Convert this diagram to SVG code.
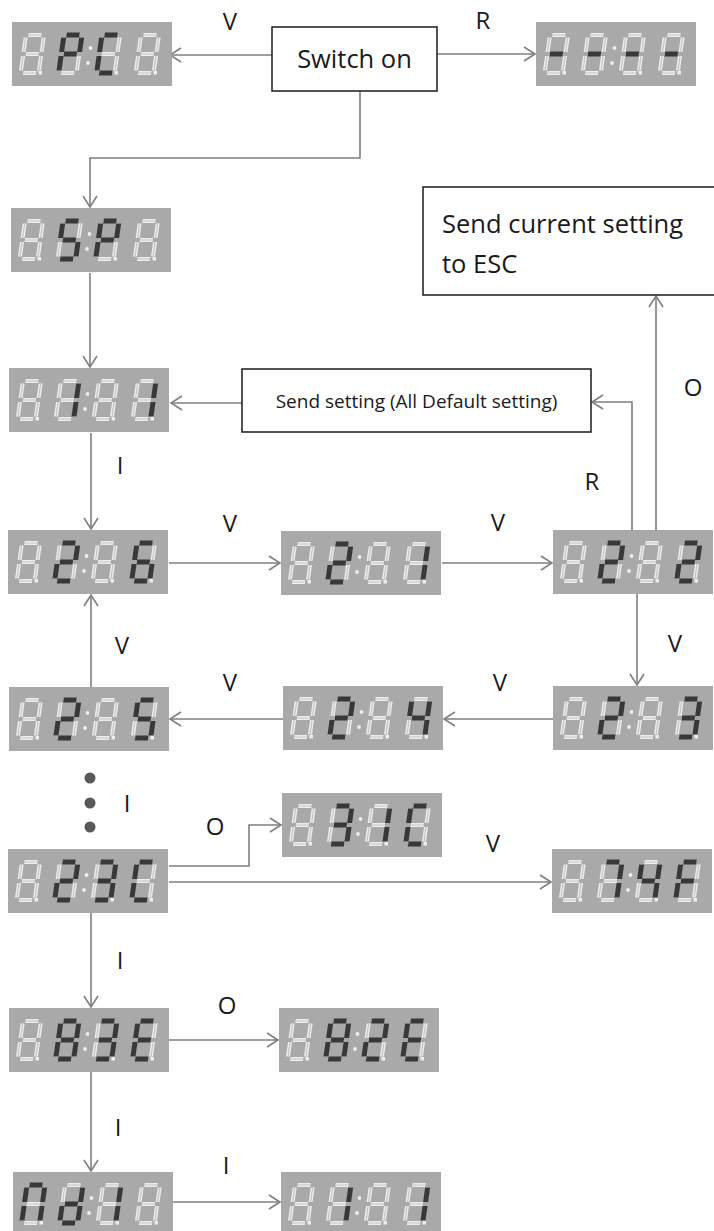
<svg xmlns="http://www.w3.org/2000/svg" xmlns:xlink="http://www.w3.org/1999/xlink" width="714" height="1231" viewBox="0 0 714 1231">
<style>
.bg{fill:#a9a9a9}
.off{stroke:#ededed;stroke-width:4;fill:none}
.offin{stroke:#c4c4c4;stroke-width:1.2;fill:none}
.offdot{fill:#ededed}
.on{stroke:#383838;stroke-width:5;fill:none}
.box{fill:#fff;stroke:#1a1a1a;stroke-width:1.5}
.lbl{font-family:"Open Sans","Liberation Sans",sans-serif;font-size:24px;fill:#1a1a1a;text-anchor:middle}
.txt{font-family:"Open Sans","Liberation Sans",sans-serif;fill:#1a1a1a}
.con{stroke:#7f7f7f;stroke-width:1.6;fill:none;marker-end:url(#arr)}
</style>
<defs>
<marker id="arr" markerWidth="16" markerHeight="18" refX="12" refY="8" orient="auto" markerUnits="userSpaceOnUse">
<path d="M1,1 L12,8 L1,15" fill="none" stroke="#7f7f7f" stroke-width="1.6"/>
</marker>
<line id="sa" x1="2.5" y1="0" x2="15.5" y2="0"/>
<line id="sb" x1="18" y1="2.5" x2="18" y2="17"/>
<line id="sc" x1="18" y1="21" x2="18" y2="35.5"/>
<line id="sd" x1="2.5" y1="38" x2="15.5" y2="38"/>
<line id="se" x1="0" y1="21" x2="0" y2="35.5"/>
<line id="sf" x1="0" y1="2.5" x2="0" y2="17"/>
<line id="sg" x1="2.5" y1="19" x2="15.5" y2="19"/>
<g id="d8"><use xlink:href="#sa"/><use xlink:href="#sb"/><use xlink:href="#sc"/><use xlink:href="#sd"/><use xlink:href="#se"/><use xlink:href="#sf"/><use xlink:href="#sg"/></g>
<g id="d8off"><use xlink:href="#d8" class="off"/><use xlink:href="#d8" class="offin"/></g>
<g id="disp">
<rect class="bg" x="0" y="0" width="160" height="64"/>
<use xlink:href="#d8off" transform="translate(14,13) skewX(-8)"/>
<use xlink:href="#d8off" transform="translate(52,13) skewX(-8)"/>
<use xlink:href="#d8off" transform="translate(90,13) skewX(-8)"/>
<use xlink:href="#d8off" transform="translate(129,13) skewX(-8)"/>
<rect class="offdot" x="26.5" y="49" width="3.5" height="3.5"/>
<rect class="offdot" x="102.5" y="49" width="3.5" height="3.5"/>
<rect class="offdot" x="141.5" y="49" width="3.5" height="3.5"/>
<circle class="offdot" cx="78.5" cy="26" r="1.9"/>
<circle class="offdot" cx="76" cy="41" r="1.9"/>
</g>
</defs>

<g id="connectors">
<line class="con" x1="272" y1="55" x2="170" y2="55"/>
<line class="con" x1="437" y1="54" x2="535" y2="54"/>
<polyline class="con" points="360,91 360,158 90,158 90,207"/>
<line class="con" x1="90" y1="273" x2="90" y2="367"/>
<line class="con" x1="242" y1="403" x2="171" y2="403"/>
<line class="con" x1="91" y1="433" x2="91" y2="529"/>
<line class="con" x1="169" y1="563" x2="280" y2="563"/>
<line class="con" x1="442" y1="563" x2="552" y2="563"/>
<polyline class="con" points="632,530 632,402 592,402"/>
<line class="con" x1="656" y1="530" x2="656" y2="296"/>
<line class="con" x1="637" y1="594" x2="637" y2="685"/>
<line class="con" x1="553" y1="719" x2="444" y2="719"/>
<line class="con" x1="283" y1="719" x2="170" y2="719"/>
<line class="con" x1="91" y1="687" x2="91" y2="595"/>
<polyline class="con" points="169,866 249,866 249,825 281,825"/>
<line class="con" x1="169" y1="882" x2="551" y2="882"/>
<line class="con" x1="91" y1="913" x2="91" y2="1007"/>
<line class="con" x1="169" y1="1040" x2="278" y2="1040"/>
<line class="con" x1="91" y1="1072" x2="91" y2="1171"/>
<line class="con" x1="173" y1="1202" x2="280" y2="1202"/>
</g>

<g id="labels">
<text class="lbl" x="230" y="30">V</text>
<text class="lbl" x="483" y="29">R</text>
<text class="lbl" x="693" y="396">O</text>
<text class="lbl" x="592" y="490">R</text>
<text class="lbl" x="120" y="474">I</text>
<text class="lbl" x="230" y="532">V</text>
<text class="lbl" x="498" y="531">V</text>
<text class="lbl" x="675" y="652">V</text>
<text class="lbl" x="500" y="691">V</text>
<text class="lbl" x="230" y="691">V</text>
<text class="lbl" x="122" y="654">V</text>
<text class="lbl" x="127" y="812">I</text>
<text class="lbl" x="215" y="835">O</text>
<text class="lbl" x="493" y="852">V</text>
<text class="lbl" x="120" y="969">I</text>
<text class="lbl" x="227" y="1014">O</text>
<text class="lbl" x="118" y="1136">I</text>
<text class="lbl" x="226" y="1174">I</text>
</g>

<g id="dots" fill="#595959">
<circle cx="90" cy="778" r="5.5"/>
<circle cx="90" cy="803" r="5.5"/>
<circle cx="90" cy="827" r="5.5"/>
</g>

<g id="switch-on">
<rect class="box" x="272" y="27" width="165" height="64"/>
<text class="txt" x="354.5" y="68" font-size="25.5" text-anchor="middle">Switch on</text>
</g>

<g id="send-current">
<rect class="box" x="423" y="187" width="300" height="108"/>
<text class="txt" x="442" y="233" font-size="25.5">Send current setting</text>
<text class="txt" x="442" y="273" font-size="25.5">to ESC</text>
</g>

<g id="send-default">
<rect class="box" x="242" y="369" width="349" height="63"/>
<text class="txt" x="416.5" y="408" font-size="19" text-anchor="middle">Send setting (All Default setting)</text>
</g>

<g id="d-PC" transform="translate(12,22)"><use xlink:href="#disp"/>
<g class="on"><g transform="translate(52,13) skewX(-8)"><use xlink:href="#sa"/><use xlink:href="#sb"/><use xlink:href="#se"/><use xlink:href="#sf"/><use xlink:href="#sg"/></g>
<g transform="translate(90,13) skewX(-8)"><use xlink:href="#sa"/><use xlink:href="#sd"/><use xlink:href="#se"/><use xlink:href="#sf"/></g></g></g>

<g id="d-dash" transform="translate(536,22)"><use xlink:href="#disp"/>
<g class="on"><use xlink:href="#sg" transform="translate(14,13) skewX(-8)"/><use xlink:href="#sg" transform="translate(52,13) skewX(-8)"/><use xlink:href="#sg" transform="translate(90,13) skewX(-8)"/><use xlink:href="#sg" transform="translate(129,13) skewX(-8)"/></g></g>

<g id="d-SP" transform="translate(11,208)"><use xlink:href="#disp"/>
<g class="on"><g transform="translate(52,13) skewX(-8)"><use xlink:href="#sa"/><use xlink:href="#sf"/><use xlink:href="#sg"/><use xlink:href="#sc"/><use xlink:href="#sd"/></g>
<g transform="translate(90,13) skewX(-8)"><use xlink:href="#sa"/><use xlink:href="#sb"/><use xlink:href="#se"/><use xlink:href="#sf"/><use xlink:href="#sg"/></g></g></g>

<g id="d-111" transform="translate(9,368)"><use xlink:href="#disp"/>
<g class="on"><g transform="translate(52,13) skewX(-8)"><use xlink:href="#sb"/><use xlink:href="#sc"/></g>
<g transform="translate(129,13) skewX(-8)"><use xlink:href="#sb"/><use xlink:href="#sc"/></g></g></g>

<g id="d-226" transform="translate(8,530)"><use xlink:href="#disp"/>
<g class="on"><g transform="translate(52,13) skewX(-8)"><use xlink:href="#sa"/><use xlink:href="#sb"/><use xlink:href="#sg"/><use xlink:href="#se"/><use xlink:href="#sd"/></g>
<g transform="translate(129,13) skewX(-8)"><use xlink:href="#sa"/><use xlink:href="#sf"/><use xlink:href="#sg"/><use xlink:href="#se"/><use xlink:href="#sd"/><use xlink:href="#sc"/></g></g></g>

<g id="d-221" transform="translate(281,531)"><use xlink:href="#disp"/>
<g class="on"><g transform="translate(52,13) skewX(-8)"><use xlink:href="#sa"/><use xlink:href="#sb"/><use xlink:href="#sg"/><use xlink:href="#se"/><use xlink:href="#sd"/></g>
<g transform="translate(129,13) skewX(-8)"><use xlink:href="#sb"/><use xlink:href="#sc"/></g></g></g>

<g id="d-222" transform="translate(553,530)"><use xlink:href="#disp"/>
<g class="on"><g transform="translate(52,13) skewX(-8)"><use xlink:href="#sa"/><use xlink:href="#sb"/><use xlink:href="#sg"/><use xlink:href="#se"/><use xlink:href="#sd"/></g>
<g transform="translate(129,13) skewX(-8)"><use xlink:href="#sa"/><use xlink:href="#sb"/><use xlink:href="#sg"/><use xlink:href="#se"/><use xlink:href="#sd"/></g></g></g>

<g id="d-223" transform="translate(553,686)"><use xlink:href="#disp"/>
<g class="on"><g transform="translate(52,13) skewX(-8)"><use xlink:href="#sa"/><use xlink:href="#sb"/><use xlink:href="#sg"/><use xlink:href="#se"/><use xlink:href="#sd"/></g>
<g transform="translate(129,13) skewX(-8)"><use xlink:href="#sa"/><use xlink:href="#sb"/><use xlink:href="#sg"/><use xlink:href="#sc"/><use xlink:href="#sd"/></g></g></g>

<g id="d-224" transform="translate(283,686)"><use xlink:href="#disp"/>
<g class="on"><g transform="translate(52,13) skewX(-8)"><use xlink:href="#sa"/><use xlink:href="#sb"/><use xlink:href="#sg"/><use xlink:href="#se"/><use xlink:href="#sd"/></g>
<g transform="translate(129,13) skewX(-8)"><use xlink:href="#sf"/><use xlink:href="#sg"/><use xlink:href="#sb"/><use xlink:href="#sc"/></g></g></g>

<g id="d-225" transform="translate(9,687)"><use xlink:href="#disp"/>
<g class="on"><g transform="translate(52,13) skewX(-8)"><use xlink:href="#sa"/><use xlink:href="#sb"/><use xlink:href="#sg"/><use xlink:href="#se"/><use xlink:href="#sd"/></g>
<g transform="translate(129,13) skewX(-8)"><use xlink:href="#sa"/><use xlink:href="#sf"/><use xlink:href="#sg"/><use xlink:href="#sc"/><use xlink:href="#sd"/></g></g></g>

<g id="d-31C" transform="translate(282,793)"><use xlink:href="#disp"/>
<g class="on"><g transform="translate(52,13) skewX(-8)"><use xlink:href="#sa"/><use xlink:href="#sb"/><use xlink:href="#sg"/><use xlink:href="#sc"/><use xlink:href="#sd"/></g>
<g transform="translate(90,13) skewX(-8)"><use xlink:href="#sb"/><use xlink:href="#sc"/></g>
<g transform="translate(129,13) skewX(-8)"><use xlink:href="#sa"/><use xlink:href="#sf"/><use xlink:href="#se"/><use xlink:href="#sd"/></g></g></g>

<g id="d-23C" transform="translate(8,849)"><use xlink:href="#disp"/>
<g class="on"><g transform="translate(52,13) skewX(-8)"><use xlink:href="#sa"/><use xlink:href="#sb"/><use xlink:href="#sg"/><use xlink:href="#se"/><use xlink:href="#sd"/></g>
<g transform="translate(90,13) skewX(-8)"><use xlink:href="#sa"/><use xlink:href="#sb"/><use xlink:href="#sg"/><use xlink:href="#sc"/><use xlink:href="#sd"/></g>
<g transform="translate(129,13) skewX(-8)"><use xlink:href="#sa"/><use xlink:href="#sf"/><use xlink:href="#se"/><use xlink:href="#sd"/></g></g></g>

<g id="d-74F" transform="translate(552,849)"><use xlink:href="#disp"/>
<g class="on"><g transform="translate(52,13) skewX(-8)"><use xlink:href="#sa"/><use xlink:href="#sb"/><use xlink:href="#sc"/></g>
<g transform="translate(90,13) skewX(-8)"><use xlink:href="#sf"/><use xlink:href="#sg"/><use xlink:href="#sb"/><use xlink:href="#sc"/></g>
<g transform="translate(129,13) skewX(-8)"><use xlink:href="#sa"/><use xlink:href="#sf"/><use xlink:href="#sg"/><use xlink:href="#se"/></g></g></g>

<g id="d-83E" transform="translate(9,1008)"><use xlink:href="#disp"/>
<g class="on"><use xlink:href="#d8" transform="translate(52,13) skewX(-8)"/>
<g transform="translate(90,13) skewX(-8)"><use xlink:href="#sa"/><use xlink:href="#sb"/><use xlink:href="#sg"/><use xlink:href="#sc"/><use xlink:href="#sd"/></g>
<g transform="translate(129,13) skewX(-8)"><use xlink:href="#sa"/><use xlink:href="#sf"/><use xlink:href="#sg"/><use xlink:href="#se"/><use xlink:href="#sd"/></g></g></g>

<g id="d-82E" transform="translate(279,1008)"><use xlink:href="#disp"/>
<g class="on"><use xlink:href="#d8" transform="translate(52,13) skewX(-8)"/>
<g transform="translate(90,13) skewX(-8)"><use xlink:href="#sa"/><use xlink:href="#sb"/><use xlink:href="#sg"/><use xlink:href="#se"/><use xlink:href="#sd"/></g>
<g transform="translate(129,13) skewX(-8)"><use xlink:href="#sa"/><use xlink:href="#sf"/><use xlink:href="#sg"/><use xlink:href="#se"/><use xlink:href="#sd"/></g></g></g>

<g id="d-nd18" transform="translate(13,1172)"><use xlink:href="#disp"/>
<g class="on"><g transform="translate(14,13) skewX(-8)"><use xlink:href="#sa"/><use xlink:href="#sb"/><use xlink:href="#sc"/><use xlink:href="#se"/><use xlink:href="#sf"/></g>
<g transform="translate(52,13) skewX(-8)"><use xlink:href="#sb"/><use xlink:href="#sc"/><use xlink:href="#sd"/><use xlink:href="#se"/><use xlink:href="#sg"/></g>
<g transform="translate(90,13) skewX(-8)"><use xlink:href="#sb"/><use xlink:href="#sc"/></g></g></g>

<g id="d-8181" transform="translate(281,1172)"><use xlink:href="#disp"/>
<g class="on"><g transform="translate(52,13) skewX(-8)"><use xlink:href="#sb"/><use xlink:href="#sc"/></g>
<g transform="translate(129,13) skewX(-8)"><use xlink:href="#sb"/><use xlink:href="#sc"/></g></g></g>
</svg>
